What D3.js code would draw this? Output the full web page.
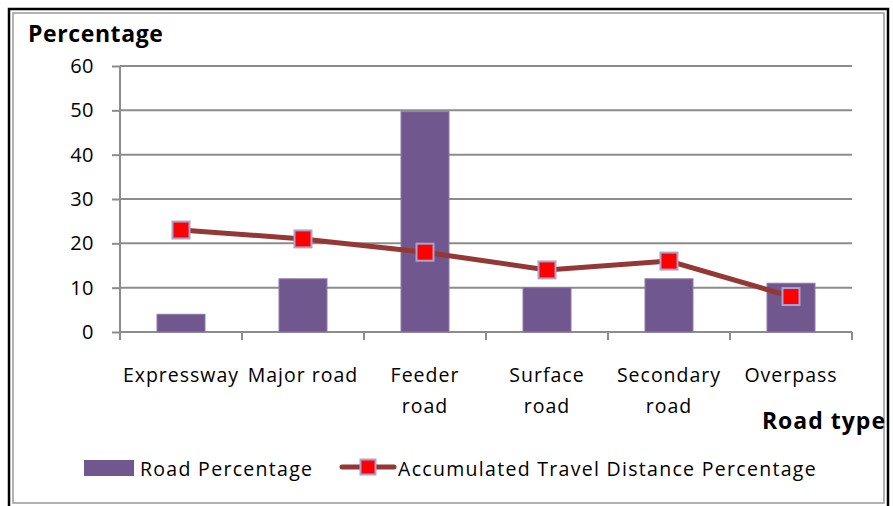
<!DOCTYPE html>
<html><head><meta charset="utf-8">
<script src="https://cdn.jsdelivr.net/npm/d3@7"></script>
<style>body{margin:0;background:#fff}svg{display:block}text{font-family:"Open Sans",sans-serif;fill:#000}</style>
</head><body>
<svg id="c" width="893" height="506"></svg>
<script>
const categories = [["Expressway"],["Major road"],["Feeder","road"],["Surface","road"],["Secondary","road"],["Overpass"]];
const roadPercentage = [4, 12, 49.7, 10, 12, 11];
const travelPercentage = [23, 21, 18, 14, 16, 8];
const yTicks = [0, 10, 20, 30, 40, 50, 60];

const svg = d3.select("#c");
// frame
svg.append("rect").attr("x",9).attr("y",9).attr("width",879).attr("height",520).attr("fill","none").attr("stroke","#000").attr("stroke-width",2.5);
svg.append("rect").attr("x",13).attr("y",13).attr("width",871).attr("height",490).attr("fill","none").attr("stroke","#999").attr("stroke-width",1.5);

const x = d3.scaleBand().domain(d3.range(categories.length)).range([120, 852]).paddingInner(0).paddingOuter(0);
const y = d3.scaleLinear().domain([0, 60]).range([332, 66]);

// y axis
const gy = svg.append("g").attr("transform","translate(120,0)")
  .call(d3.axisLeft(y).tickValues(yTicks).tickSize(8).tickPadding(18).tickFormat(d3.format("d")));
gy.select(".domain").remove();
gy.selectAll(".tick line").attr("stroke","#8c8c8c").attr("stroke-width",2);
gy.selectAll(".tick text").attr("font-size",20).attr("font-family","Open Sans").attr("letter-spacing",0.5);
svg.append("g").selectAll("line").data(yTicks).join("line")
  .attr("x1",120).attr("x2",852).attr("y1",d=>y(d)).attr("y2",d=>y(d))
  .attr("stroke","#8c8c8c").attr("stroke-width",2);
svg.append("line").attr("x1",120).attr("x2",120).attr("y1",66).attr("y2",340).attr("stroke","#8c8c8c").attr("stroke-width",2);

// x axis ticks (boundaries)
const bounds = d3.range(categories.length+1).map(i => i < categories.length ? x(i) : x(categories.length-1)+x.bandwidth());
svg.append("g").selectAll("line").data(bounds).join("line")
  .attr("x1",d=>d).attr("x2",d=>d).attr("y1",332).attr("y2",340)
  .attr("stroke","#8c8c8c").attr("stroke-width",2);

// bars
const bw = 48;
svg.append("g").selectAll("rect").data(roadPercentage).join("rect")
  .attr("x",(d,i)=>x(i)+x.bandwidth()/2-bw/2).attr("width",bw)
  .attr("y",d=>y(d)).attr("height",d=>y(0)-y(d))
  .attr("fill","#70588f").attr("stroke","#8e7bab").attr("stroke-width",1);

// line
const cx = i => x(i)+x.bandwidth()/2;
svg.append("path").datum(travelPercentage)
  .attr("d", d3.line().x((d,i)=>cx(i)).y(d=>y(d)))
  .attr("fill","none").attr("stroke","#953735").attr("stroke-width",5);
const ms = 17;
svg.append("g").selectAll("rect").data(travelPercentage).join("rect")
  .attr("x",(d,i)=>cx(i)-ms/2).attr("y",d=>y(d)-ms/2).attr("width",ms).attr("height",ms)
  .attr("fill","#ff0000").attr("stroke","#a9a3cf").attr("stroke-width",2);

// category labels
const cl = svg.append("g");
categories.forEach((lines,i)=>{
  lines.forEach((t,j)=>{
    cl.append("text").attr("x",cx(i)).attr("y",382+j*31).attr("text-anchor","middle").attr("font-size",19.5).attr("letter-spacing",1).text(t);
  });
});

// titles
svg.append("text").attr("x",28).attr("y",42).attr("font-size",23).attr("font-weight","bold").attr("letter-spacing",0.6).text("Percentage");
svg.append("text").attr("x",886).attr("y",429).attr("text-anchor","end").attr("font-size",23).attr("font-weight","bold").attr("letter-spacing",1).text("Road type");

// legend
svg.append("rect").attr("x",84).attr("y",460).attr("width",50).attr("height",16).attr("fill","#70588f");
svg.append("text").attr("x",140).attr("y",476).attr("font-size",19.5).attr("letter-spacing",1.3).text("Road Percentage");
svg.append("line").attr("x1",342).attr("x2",394).attr("y1",467).attr("y2",467).attr("stroke","#953735").attr("stroke-width",5).attr("stroke-linecap","round");
svg.append("rect").attr("x",368-7.5).attr("y",467-7.5).attr("width",15).attr("height",15).attr("fill","#ff0000").attr("stroke","#a9a3cf").attr("stroke-width",2);
svg.append("text").attr("x",398).attr("y",476).attr("font-size",19.5).attr("letter-spacing",1.3).text("Accumulated Travel Distance Percentage");
</script>
</body></html>
